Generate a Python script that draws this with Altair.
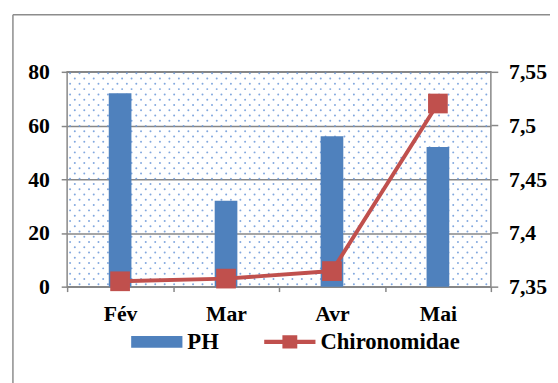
import altair as alt
import pandas as pd
import numpy as np

# ---- data ----
months = ["Fév", "Mar", "Avr", "Mai"]
ph = [72, 32, 56, 52]
chironomidae = [7.355, 7.3575, 7.3645, 7.5205]
left_ticks = [0, 20, 40, 60, 80]
right_ticks = [7.35, 7.4, 7.45, 7.5, 7.55]
series = ["PH", "Chironomidae"]

# ---- style ----
W, H = 430, 218
BLUE = "#4f81bd"
RED = "#c0504d"
GRID = "#878787"
DOT = "#6b98d8"
FONT = "Liberation Serif"
FS = 22

lab = dict(labelFont=FONT, labelFontSize=FS, labelFontWeight="bold", labelColor="black")

df = pd.DataFrame({"month": months, "ph": ph, "chiro": chironomidae})

x_enc = alt.X(
    "month:N", sort=months,
    scale=alt.Scale(paddingInner=0, paddingOuter=0),
    axis=alt.Axis(title=None, labelAngle=0, tickBand="extent", tickSize=5,
                  labelPadding=12, grid=False, **lab),
)

bars = alt.Chart(df).mark_bar(size=23, color=BLUE).encode(
    x=x_enc,
    y=alt.Y("ph:Q", scale=alt.Scale(domain=[0, 80], nice=False),
            axis=alt.Axis(title=None, orient="left", values=left_ticks,
                          grid=True, tickSize=6, labelPadding=12, **lab)),
)

y_right = alt.Y("chiro:Q", scale=alt.Scale(domain=[7.35, 7.55], zero=False, nice=False),
                axis=alt.Axis(title=None, orient="right", values=right_ticks,
                              grid=False, tickSize=7, labelPadding=11,
                              format=".2~f", **lab))

line = alt.Chart(df).mark_line(color=RED, strokeWidth=4).encode(x=x_enc, y=y_right)
pts = alt.Chart(df).mark_point(shape="square", filled=True, size=400, color=RED,
                               opacity=1).encode(x=x_enc, y=y_right)

inner = alt.layer(bars, alt.layer(line, pts)).resolve_scale(y="independent")

# dotted background texture of the plot area
cols = np.arange(0, W, 9.6)
rows = np.arange(2.5, H, 5.35)
dot_rows = []
for i, r in enumerate(rows):
    for c in cols:
        dx = c + 3 + (4.8 if i % 2 else 0)
        if dx < W:
            dot_rows.append({"dx": dx, "dy": r})
dots = alt.Chart(pd.DataFrame(dot_rows)).mark_circle(size=4, color=DOT, opacity=0.85).encode(
    x=alt.X("dx:Q", scale=alt.Scale(domain=[0, W], nice=False, zero=False), axis=None),
    y=alt.Y("dy:Q", scale=alt.Scale(domain=[0, H], nice=False, zero=False), axis=None),
)

# legend
path_ph = "M-1,-0.23H1V0.23H-1Z"
path_chi = "M-1,-0.08H1V0.08H-1Z M-0.29,-0.26H0.29V0.26H-0.29Z"
leg = alt.Legend(title=None, orient="none", legendX=65, legendY=248, direction="horizontal",
                 labelFont=FONT, labelFontSize=23, labelFontWeight="bold", labelColor="black",
                 labelOffset=5, columnPadding=46, symbolStrokeWidth=0, symbolSize=2704,
                 symbolOpacity=1, padding=0)
legend_layer = alt.Chart(pd.DataFrame({"series": series})).mark_point(
    filled=True, size=2704, opacity=1).encode(
    x=alt.value(-600), y=alt.value(-600),
    color=alt.Color("series:N", sort=series,
                    scale=alt.Scale(domain=series, range=[BLUE, RED]), legend=leg),
    shape=alt.Shape("series:N", sort=series,
                    scale=alt.Scale(domain=series, range=[path_ph, path_chi]), legend=leg),
)

# outer chart frame
frame_df = pd.DataFrame({"k": [0]})
frame_v = alt.Chart(frame_df).mark_rule(color="#8c8c8c", strokeWidth=1.5).encode(
    x=alt.value(-55), y=alt.value(-58), y2=alt.value(H + 200))
frame_h = alt.Chart(frame_df).mark_rule(color="#8c8c8c", strokeWidth=1.5).encode(
    x=alt.value(-55), x2=alt.value(W + 200), y=alt.value(-58))

chart = alt.layer(dots, inner, legend_layer, frame_v, frame_h).resolve_scale(
    x="independent", y="independent"
).properties(
    width=W, height=H,
    autosize=alt.AutoSizeParams(type="none"),
    padding={"left": 60, "top": 62, "right": 60, "bottom": 95},
    background="white",
).configure(
    locale={"number": {"decimal": ",", "thousands": "\u00a0", "grouping": [3],
                       "currency": ["", "\u00a0€"]}}
).configure_view(
    stroke=GRID, strokeWidth=1.5
).configure_axis(
    labelFont=FONT, labelFontSize=FS, labelFontWeight="bold", labelColor="black",
    tickColor=GRID, tickWidth=1.5, gridColor=GRID, gridWidth=1.5, domain=False,
)

chart.save("out.html", embed_options={"renderer": "svg", "actions": False})
